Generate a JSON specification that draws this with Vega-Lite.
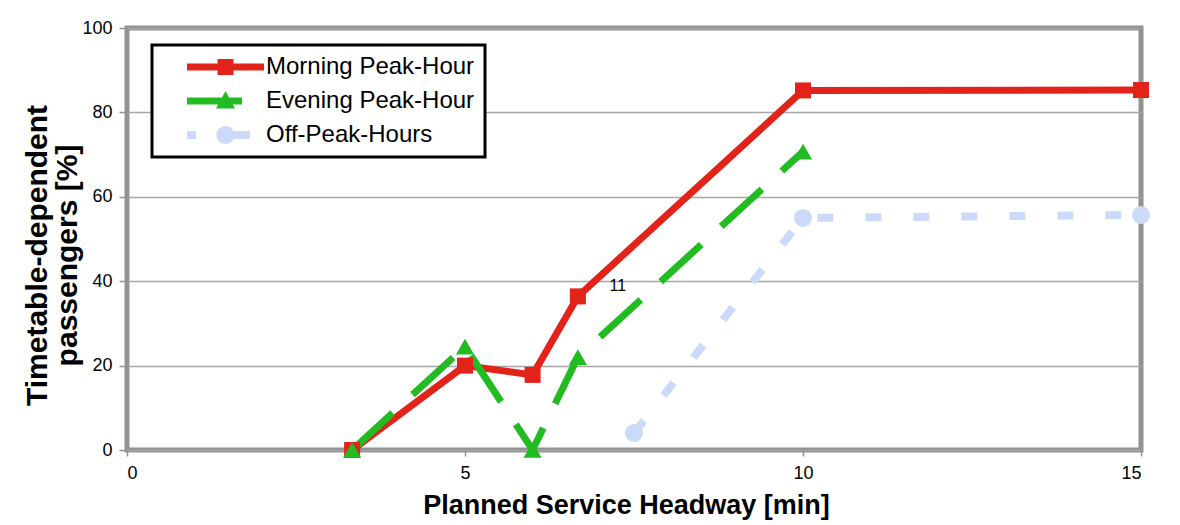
{
  "$schema": "https://vega.github.io/schema/vega-lite/v6.json",
  "width": 1014,
  "height": 422,
  "autosize": {"type": "none"},
  "padding": {"left": 127, "top": 28, "right": 39, "bottom": 75},
  "background": "white",
  "config": {
    "font": "Liberation Sans",
    "view": {"stroke": "#929292", "strokeWidth": 5},
    "legend": {"strokeWidth": 3},
    "axis": {
      "domain": false,
      "labelFont": "Liberation Sans",
      "labelFontSize": 18,
      "labelColor": "#000000",
      "tickColor": "#929292",
      "tickWidth": 1.5,
      "titleFont": "Liberation Sans",
      "titleFontWeight": "bold",
      "titleColor": "#000000"
    }
  },
  "datasets": {
    "series": [
      {"series": "Morning Peak-Hour", "x": 3.33, "y": 0},
      {"series": "Morning Peak-Hour", "x": 5, "y": 20},
      {"series": "Morning Peak-Hour", "x": 6, "y": 17.8},
      {"series": "Morning Peak-Hour", "x": 6.67, "y": 36.4},
      {"series": "Morning Peak-Hour", "x": 10, "y": 85.2},
      {"series": "Morning Peak-Hour", "x": 15, "y": 85.3},
      {"series": "Evening Peak-Hour", "x": 3.33, "y": 0},
      {"series": "Evening Peak-Hour", "x": 5, "y": 24.5},
      {"series": "Evening Peak-Hour", "x": 6, "y": 0},
      {"series": "Evening Peak-Hour", "x": 6.67, "y": 22},
      {"series": "Evening Peak-Hour", "x": 10, "y": 70.7},
      {"series": "Off-Peak-Hours", "x": 7.5, "y": 4},
      {"series": "Off-Peak-Hours", "x": 10, "y": 55},
      {"series": "Off-Peak-Hours", "x": 15, "y": 55.7}
    ],
    "notes": [
      {"label": "11", "x": 7.26, "y": 38.9}
    ]
  },
  "data": {"name": "series"},
  "layer": [
    {
      "mark": {"type": "point", "filled": true, "opacity": 0, "size": 400},
      "encoding": {
        "x": {
          "field": "x", "type": "quantitative",
          "scale": {"domain": [0, 15], "nice": false},
          "axis": {
            "values": [0, 5, 10, 15], "format": "d", "grid": false, "tickSize": 6,
            "labelPadding": 8, "title": "Planned Service Headway [min]",
            "titleFontSize": 27, "titlePadding": 10, "titleX": 499
          }
        },
        "y": {
          "field": "y", "type": "quantitative",
          "scale": {"domain": [0, 100], "nice": false},
          "axis": {
            "values": [0, 20, 40, 60, 80, 100], "format": "d", "grid": true, "gridColor": "#a6a6a6", "gridWidth": 1.5,
            "tickSize": 8, "labelPadding": 7,
            "title": ["Timetable-dependent", "passengers [%]"], "titleFontSize": 30,
            "titleLineHeight": 30, "titleX": -75, "titleY": 227
          }
        },
        "color": {
          "field": "series", "type": "nominal",
          "scale": {
            "domain": ["Morning Peak-Hour", "Evening Peak-Hour", "Off-Peak-Hours"],
            "range": ["#e2231a", "#22bb22", "#ccdaf9"]
          },
          "legend": {
            "title": null,
            "orient": "none",
            "legendX": 25,
            "legendY": 17,
            "padding": 10,
            "strokeColor": "#000000",
            "fillColor": "#ffffff",
            "labelFont": "Liberation Sans",
            "labelFontSize": 24,
            "labelColor": "#000000",
            "labelOffset": 28.5,
            "symbolOffset": 51.5,
            "symbolSize": 400,
            "symbolStrokeWidth": 0,
            "symbolStrokeColor": "transparent",
            "symbolOpacity": 1,
            "rowPadding": 10,
            "labelLimit": 400
          }
        },
        "shape": {
          "field": "series", "type": "nominal",
          "scale": {
            "domain": ["Morning Peak-Hour", "Evening Peak-Hour", "Off-Peak-Hours"],
            "range": [
              "M-3.85,-0.35H3.85V0.35H-3.85Z M-0.8,-0.8H0.8V0.8H-0.8Z",
              "M-3.85,-0.35H1.65V0.35H-3.85Z M0,-1L0.95,0.75H-0.95Z",
              "M-3.85,-0.4H-2.95V0.4H-3.85Z M-0.9,0A0.9,0.9 0 1,1 0.9,0A0.9,0.9 0 1,1 -0.9,0Z M0.85,-0.4H2.45V0.4H0.85Z"
            ]
          },
          "legend": {
            "title": null,
            "orient": "none",
            "legendX": 25,
            "legendY": 17,
            "padding": 10,
            "strokeColor": "#000000",
            "fillColor": "#ffffff",
            "labelFont": "Liberation Sans",
            "labelFontSize": 24,
            "labelColor": "#000000",
            "labelOffset": 28.5,
            "symbolOffset": 51.5,
            "symbolSize": 400,
            "symbolStrokeWidth": 0,
            "symbolStrokeColor": "transparent",
            "symbolOpacity": 1,
            "rowPadding": 10,
            "labelLimit": 400
          }
        }
      }
    },
    {
      "transform": [{"filter": "datum.series === 'Morning Peak-Hour'"}],
      "mark": {"type": "line", "strokeCap": "butt", "strokeJoin": "miter", "strokeWidth": 7, "clip": false},
      "encoding": {
        "x": {"field": "x", "type": "quantitative"},
        "y": {"field": "y", "type": "quantitative"},
        "color": {"field": "series", "type": "nominal", "legend": null}
      }
    },
    {
      "transform": [{"filter": "datum.series === 'Evening Peak-Hour'"}],
      "mark": {"type": "line", "strokeCap": "butt", "strokeJoin": "miter", "strokeWidth": 7, "strokeDash": [55, 27], "clip": false},
      "encoding": {
        "x": {"field": "x", "type": "quantitative"},
        "y": {"field": "y", "type": "quantitative"},
        "color": {"field": "series", "type": "nominal", "legend": null}
      }
    },
    {
      "transform": [{"filter": "datum.series === 'Off-Peak-Hours'"}],
      "mark": {"type": "line", "strokeCap": "butt", "strokeJoin": "miter", "strokeWidth": 8, "strokeDash": [16, 32], "clip": false},
      "encoding": {
        "x": {"field": "x", "type": "quantitative"},
        "y": {"field": "y", "type": "quantitative"},
        "color": {"field": "series", "type": "nominal", "legend": null}
      }
    },
    {
      "transform": [{"filter": "datum.series === 'Morning Peak-Hour'"}],
      "mark": {"type": "point", "shape": "square", "filled": true, "opacity": 1, "size": 256, "clip": false},
      "encoding": {
        "x": {"field": "x", "type": "quantitative"},
        "y": {"field": "y", "type": "quantitative"},
        "color": {"field": "series", "type": "nominal", "legend": null}
      }
    },
    {
      "transform": [{"filter": "datum.series === 'Evening Peak-Hour'"}],
      "mark": {"type": "point", "shape": "triangle-up", "filled": true, "opacity": 1, "size": 330, "clip": false},
      "encoding": {
        "x": {"field": "x", "type": "quantitative"},
        "y": {"field": "y", "type": "quantitative"},
        "color": {"field": "series", "type": "nominal", "legend": null}
      }
    },
    {
      "transform": [{"filter": "datum.series === 'Off-Peak-Hours'"}],
      "mark": {"type": "point", "shape": "circle", "filled": true, "opacity": 1, "size": 324, "clip": false},
      "encoding": {
        "x": {"field": "x", "type": "quantitative"},
        "y": {"field": "y", "type": "quantitative"},
        "color": {"field": "series", "type": "nominal", "legend": null}
      }
    },
    {
      "data": {"name": "notes"},
      "mark": {"type": "text", "font": "Liberation Sans", "fontSize": 16, "color": "#000000", "align": "center", "baseline": "middle"},
      "encoding": {
        "x": {"field": "x", "type": "quantitative"},
        "y": {"field": "y", "type": "quantitative"},
        "text": {"field": "label"}
      }
    }
  ]
}
